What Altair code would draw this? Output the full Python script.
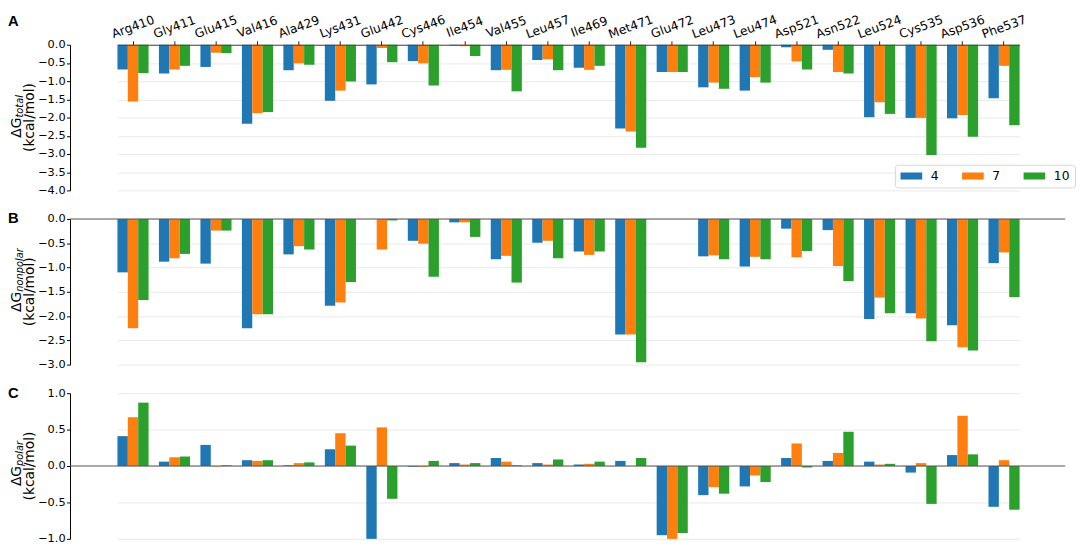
import altair as alt
import pandas as pd

residues = ["Arg410", "Gly411", "Glu415", "Val416", "Ala429", "Lys431", "Glu442",
            "Cys446", "Ile454", "Val455", "Leu457", "Ile469", "Met471", "Glu472",
            "Leu473", "Leu474", "Asp521", "Asn522", "Leu524", "Cys535", "Asp536",
            "Phe537"]
series = ["4", "7", "10"]
colors = ["#1f77b4", "#ff7f0e", "#2ca02c"]

# Panel A: total
total_4 = [-0.68, -0.79, -0.61, -2.17, -0.70, -1.54, -1.09, -0.45, -0.02, -0.70, -0.42,
           -0.63, -2.30, -0.75, -1.17, -1.26, -0.07, -0.14, -1.99, -2.01, -2.02, -1.47]
total_7 = [-1.56, -0.68, -0.22, -1.88, -0.51, -1.26, -0.09, -0.51, -0.04, -0.69, -0.40,
           -0.69, -2.38, -0.75, -1.04, -0.89, -0.46, -0.75, -1.58, -2.01, -1.93, -0.58]
total_10 = [-0.78, -0.58, -0.23, -1.85, -0.55, -1.01, -0.48, -1.12, -0.31, -1.28, -0.70,
            -0.58, -2.83, -0.75, -1.21, -1.04, -0.68, -0.79, -1.90, -3.03, -2.53, -2.21]

# Panel B: nonpolar
nonpolar_4 = [-1.10, -0.88, -0.92, -2.25, -0.73, -1.79, 0.0, -0.45, -0.07, -0.83, -0.49,
              -0.67, -2.38, 0.0, -0.77, -0.98, -0.20, -0.23, -2.06, -1.94, -2.19, -0.91]
nonpolar_7 = [-2.25, -0.81, -0.24, -1.96, -0.56, -1.72, -0.63, -0.51, -0.07, -0.76, -0.45,
              -0.74, -2.38, 0.0, -0.75, -0.78, -0.79, -0.97, -1.62, -2.05, -2.64, -0.69]
nonpolar_10 = [-1.67, -0.72, -0.24, -1.96, -0.63, -1.30, -0.03, -1.19, -0.37, -1.31, -0.81,
               -0.67, -2.95, 0.0, -0.83, -0.83, -0.66, -1.28, -1.94, -2.52, -2.71, -1.61]

# Panel C: polar
polar_4 = [0.41, 0.06, 0.29, 0.08, 0.01, 0.23, -1.00, -0.01, 0.04, 0.11, 0.04,
           0.02, 0.07, -0.95, -0.40, -0.28, 0.11, 0.07, 0.06, -0.09, 0.15, -0.56]
polar_7 = [0.67, 0.12, -0.005, 0.07, 0.04, 0.45, 0.53, -0.01, 0.02, 0.06, 0.02,
           0.03, 0.0, -1.00, -0.29, -0.13, 0.31, 0.18, 0.02, 0.04, 0.69, 0.08]
polar_10 = [0.87, 0.13, 0.01, 0.08, 0.05, 0.28, -0.45, 0.07, 0.04, 0.01, 0.09,
            0.06, 0.11, -0.92, -0.38, -0.22, -0.02, 0.47, 0.03, -0.52, 0.16, -0.60]

ticks_a = [0.0, -0.5, -1.0, -1.5, -2.0, -2.5, -3.0, -3.5, -4.0]
ticks_b = [0.0, -0.5, -1.0, -1.5, -2.0, -2.5, -3.0]
ticks_c = [1.0, 0.5, 0.0, -0.5, -1.0]

W = 1011
H = 148
FONT = "DejaVu Sans"
X_RANGE = [48.2, 964.7]


def text_layer(txt, **kw):
    enc = {}
    for k in ("x", "y"):
        if k in kw:
            enc[k] = alt.value(kw.pop(k))
    return alt.Chart(pd.DataFrame({"t": [txt]})).mark_text(**kw).encode(
        text="t:N", **enc)


def y_axis(ticks):
    return alt.Axis(values=ticks, format=".1f", title=None, labelOverlap=False,
                    labelFontSize=11.5, labelFont=FONT, labelColor="black",
                    tickSize=3.5, labelPadding=1.5, tickColor="black",
                    domainColor="black", domainWidth=1,
                    gridColor="#e6e6e6", gridWidth=0.9)


def panel(v4, v7, v10, dom, ticks, letter, sub, first, letter_y):
    df = pd.DataFrame({
        "residue": residues * 3,
        "series": ["4"] * len(residues) + ["7"] * len(residues) + ["10"] * len(residues),
        "value": v4 + v7 + v10,
    })
    xscale = alt.Scale(paddingInner=0.25, paddingOuter=0, range=X_RANGE)
    yscale = alt.Scale(domain=dom, nice=False)
    if first:
        xaxis = alt.Axis(orient="top", labelAngle=340, labelAlign="center",
                         labelBaseline="middle", labelPadding=14.5, tickSize=4,
                         tickColor="#222222", domainColor="#444444", domainWidth=1.1,
                         labelFontSize=12.5, labelColor="black", labelFont=FONT,
                         grid=False, zindex=1, title=None)
        legend = alt.Legend(orient="none", legendX=838, legendY=122,
                            direction="horizontal", title=None,
                            symbolType="M-1,-0.65H3V0.65H-1Z", symbolSize=121,
                            symbolStrokeWidth=0, symbolOpacity=1,
                            labelFontSize=12.5, labelFont=FONT, labelColor="black",
                            labelOffset=19, columnPadding=22.5, padding=5,
                            strokeColor="#d6d6d6", fillColor="white",
                            cornerRadius=3)
    else:
        xaxis = None
        legend = None
    bars = alt.Chart(df).mark_bar().encode(
        x=alt.X("residue:N", sort=residues, scale=xscale, axis=xaxis, title=None),
        xOffset=alt.XOffset("series:N", sort=series),
        y=alt.Y("value:Q", scale=yscale, axis=y_axis(ticks)),
        color=alt.Color("series:N", sort=series,
                        scale=alt.Scale(domain=series, range=colors),
                        legend=legend),
    )
    layers = [bars]
    if not first:
        layers.append(
            alt.Chart(pd.DataFrame({"z": [0.0]})).mark_rule(
                color="#555555", strokeWidth=1.1).encode(
                y=alt.Y("z:Q", scale=yscale, axis=y_axis(ticks))))
    cy = H / 2
    layers.append(text_layer(letter, x=-63, y=letter_y, font="Liberation Sans",
                             fontWeight="bold", fontSize=15, align="left",
                             baseline="middle", color="black"))
    layers.append(text_layer("ΔG", x=-49.5, y=cy, angle=270, align="right",
                             baseline="alphabetic", font=FONT, fontSize=14,
                             color="black"))
    layers.append(text_layer(sub, x=-47.3, y=cy, angle=270, align="left",
                             baseline="alphabetic", font=FONT, fontSize=10,
                             fontStyle="italic", color="black"))
    layers.append(text_layer("(kcal/mol)", x=-36.5, y=cy, angle=270, align="center",
                             baseline="alphabetic", font=FONT, fontSize=14,
                             color="black"))
    return alt.layer(*layers).properties(width=W, height=H)


pa = panel(total_4, total_7, total_10, [-4, 0], ticks_a, "A", "total", True, -24)
pb = panel(nonpolar_4, nonpolar_7, nonpolar_10, [-3, 0], ticks_b, "B", "nonpolar", False, -1)
pc = panel(polar_4, polar_7, polar_10, [-1, 1], ticks_c, "C", "polar", False, -0.5)

chart = alt.vconcat(pa, pb, pc, spacing=29, bounds="flush").resolve_legend(
    color="independent"
).properties(
    padding={"left": 0, "top": 0, "right": 0, "bottom": 0}
).configure(font=FONT).configure_view(stroke=None)

chart.save("out.html", embed_options={"renderer": "svg", "actions": False})
